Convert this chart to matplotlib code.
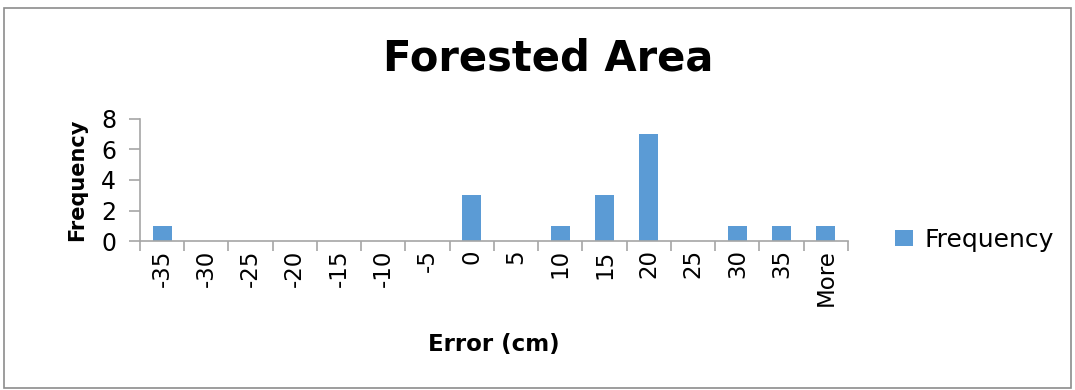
import matplotlib.pyplot as plt
from matplotlib.patches import Rectangle
import numpy as np

# --- Histogram bins and counts ---
bins = ["-35", "-30", "-25", "-20", "-15", "-10", "-5", "0", "5",
        "10", "15", "20", "25", "30", "35", "More"]
frequency = [1, 0, 0, 0, 0, 0, 0, 3, 0, 1, 3, 7, 0, 1, 1, 1]

bar_color = "#5B9BD5"
axis_color = "#A6A6A6"

fig = plt.figure(figsize=(10.75, 3.9), dpi=100)
ax = fig.add_axes([0.1302, 0.382, 0.6586, 0.313])

x = np.arange(len(bins))
ax.bar(x, frequency, width=0.43, color=bar_color, label="Frequency")

ax.set_xlim(-0.5, len(bins) - 0.5)
ax.set_ylim(0, 8)
ax.set_yticks([0, 2, 4, 6, 8])

# category labels at centres, tick marks on the bin boundaries
ax.set_xticks(x)
ax.set_xticklabels(bins, rotation=90, fontsize=16.5)
ax.set_xticks(np.arange(-0.5, len(bins)), minor=True)
ax.tick_params(axis="x", which="major", length=0, pad=6)
ax.tick_params(axis="x", which="minor", length=7, color=axis_color, width=1.2)
ax.tick_params(axis="y", length=8, color=axis_color, width=1.2, labelsize=17, pad=9)

for side in ["top", "right"]:
    ax.spines[side].set_visible(False)
for side in ["left", "bottom"]:
    ax.spines[side].set_color(axis_color)
    ax.spines[side].set_linewidth(1.2)

ax.set_ylabel("Frequency", fontsize=15, fontweight="bold", labelpad=10)
ax.set_xlabel("Error (cm)", fontsize=16.5, fontweight="bold", labelpad=19)

fig.text(0.51, 0.85, "Forested Area", ha="center", va="center",
         fontsize=30, fontweight="bold")

fig.legend(loc="center left", bbox_to_anchor=(0.812, 0.385), frameon=False,
           fontsize=18, handlelength=0.7, handleheight=0.65, handletextpad=0.45)

# chart border
fig.patches.append(Rectangle((0.004, 0.005), 0.992, 0.975, transform=fig.transFigure,
                             fill=False, edgecolor="#8C8C8C", linewidth=1.2))

plt.savefig("out.png", dpi=100)
